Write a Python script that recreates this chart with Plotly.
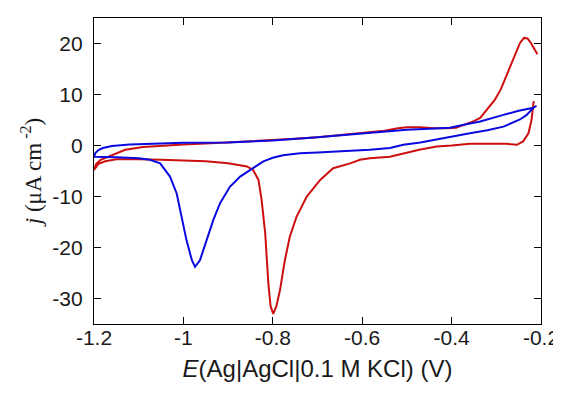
import plotly.graph_objects as go

# Red CV (starts on the right, cathodic sweep, then anodic sweep back)
red_x = [-0.216, -0.217, -0.221, -0.228, -0.240, -0.254, -0.277, -0.320, -0.359, -0.400,
         -0.433, -0.470, -0.508, -0.538, -0.583, -0.605, -0.627, -0.665, -0.694, -0.724,
         -0.747, -0.762, -0.773, -0.784, -0.792, -0.799, -0.805, -0.810, -0.817, -0.825,
         -0.832, -0.844, -0.858, -0.873, -0.900, -0.950, -1.000, -1.050, -1.100, -1.150,
         -1.175, -1.190, -1.200,
         -1.195, -1.185, -1.164, -1.130, -1.090, -1.050, -1.000, -0.950, -0.900, -0.850,
         -0.800, -0.750, -0.700, -0.650, -0.600, -0.550, -0.520, -0.500, -0.470, -0.440,
         -0.410, -0.390, -0.374, -0.355, -0.336, -0.322, -0.303, -0.290, -0.281, -0.266,
         -0.255, -0.247, -0.238, -0.230, -0.222, -0.215, -0.208]
red_y = [8.7, 8.3, 5.1, 2.4, 0.8, 0.14, 0.33, 0.35, 0.33, 0.0,
         -0.2, -0.8, -1.5, -2.2, -2.5, -2.8, -3.5, -4.45, -6.75, -10.0,
         -14.0, -17.9, -22.5, -28.4, -31.5, -33.0, -31.5, -27.0, -17.2, -10.7,
         -6.75, -4.8, -4.1, -3.9, -3.5, -3.1, -2.9, -2.8, -2.7, -2.7,
         -3.1, -3.6, -4.8,
         -3.6, -2.8, -2.0, -0.85, -0.3, -0.05, 0.2, 0.4, 0.6, 0.8,
         1.0, 1.3, 1.6, 2.0, 2.4, 2.9, 3.4, 3.6, 3.6, 3.4,
         3.4, 3.5, 4.0, 4.6, 5.4, 7.0, 9.0, 11.0, 12.9, 16.2,
         18.5, 20.1, 21.1, 21.0, 20.0, 19.0, 17.9]

# Blue CV (closed loop)
blue_x = [-0.210, -0.217, -0.232, -0.247, -0.284, -0.320, -0.359, -0.400, -0.433, -0.470,
          -0.508, -0.538, -0.583, -0.630, -0.672, -0.700, -0.739, -0.777, -0.800, -0.821,
          -0.840, -0.851, -0.873, -0.896, -0.918, -0.933, -0.948, -0.963, -0.974, -0.981,
          -0.993, -1.004, -1.015, -1.030, -1.052, -1.075, -1.100, -1.150, -1.180, -1.200,
          -1.197, -1.190, -1.180, -1.160, -1.120, -1.050, -1.000, -0.900, -0.800, -0.700,
          -0.600, -0.540, -0.500, -0.450, -0.404, -0.370, -0.336, -0.284, -0.250, -0.217,
          -0.210]
blue_y = [7.8, 7.4, 6.0, 5.1, 3.7, 3.0, 2.4, 1.7, 1.1, 0.6,
          0.14, -0.5, -0.85, -1.0, -1.2, -1.35, -1.5, -1.9, -2.4, -3.1,
          -4.2, -4.8, -6.1, -8.1, -11.3, -14.6, -18.6, -22.5, -23.8, -22.5,
          -18.6, -14.0, -9.4, -6.1, -3.5, -2.8, -2.5, -2.3, -2.2, -2.2,
          -1.5, -0.9, -0.5, -0.1, 0.2, 0.4, 0.55, 0.6, 1.0, 1.6,
          2.4, 2.9, 3.1, 3.3, 3.5, 4.1, 4.7, 6.0, 6.8, 7.4,
          7.8]

x_ticks = [-1.2, -1.0, -0.8, -0.6, -0.4, -0.2]
x_tick_labels = ["-1.2", "-1", "-0.8", "-0.6", "-0.4", "-0.2"]
y_ticks = [-30, -20, -10, 0, 10, 20]
y_tick_labels = ["-30", "-20", "-10", "0", "10", "20"]

fig = go.Figure()
fig.add_trace(go.Scatter(x=red_x, y=red_y, mode="lines",
                         line=dict(color="#cc1010", width=2), showlegend=False))
fig.add_trace(go.Scatter(x=blue_x, y=blue_y, mode="lines",
                         line=dict(color="#0a0ae0", width=2), showlegend=False))

axis_common = dict(showline=True, linecolor="black", linewidth=1.3, mirror="allticks",
                   ticks="inside", ticklen=7, tickwidth=1.2, tickcolor="black",
                   showgrid=False, zeroline=False, automargin=False,
                   tickfont=dict(family="Liberation Sans, Arial", size=21, color="#1a1a1a"))

fig.update_xaxes(range=[-1.2, -0.2], tickvals=x_ticks, ticktext=x_tick_labels,
                 ticklabelstandoff=-5,
                 title=dict(text="<i>E</i>(Ag|AgCl|0.1 M KCl) (V)", standoff=11,
                            font=dict(family="Liberation Sans, Arial", size=24, color="#1a1a1a")),
                 **axis_common)
fig.update_yaxes(range=[-35, 25], tickvals=y_ticks, ticktext=y_tick_labels,
                 ticklabelstandoff=6,
                 title=dict(text="<i>j</i> (μA cm<sup> -2</sup>)", standoff=4,
                            font=dict(family="Liberation Serif, Times New Roman", size=23, color="#1a1a1a")),
                 **axis_common)

fig.update_layout(width=553, height=385, margin=dict(l=86, r=20, t=10, b=69),
                  paper_bgcolor="white", plot_bgcolor="white")

fig.write_html("out.html")
